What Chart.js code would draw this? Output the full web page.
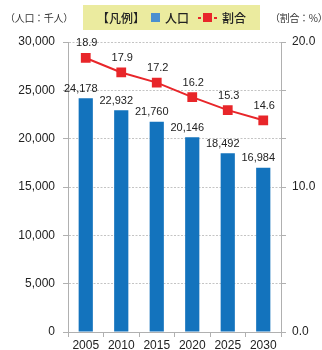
<!DOCTYPE html>
<html><head><meta charset="utf-8">
<script src="https://cdn.jsdelivr.net/npm/chart.js@4/dist/chart.umd.min.js"></script>
<style>
html,body{margin:0;padding:0;background:#fff;}
#wrap{position:relative;width:322px;height:350px;font-family:"Noto Sans CJK JP","Liberation Sans",sans-serif;}
canvas{position:absolute;left:0;top:0;}
.t{position:absolute;font-size:10px;color:#333;white-space:nowrap;letter-spacing:-0.3px;}
#legend{position:absolute;left:83px;top:5px;width:177px;height:25px;background:#ebeb9f;font-size:12px;color:#222;display:flex;align-items:center;justify-content:center;gap:0;font-weight:500;}
.sq{display:inline-block;width:9px;height:9px;background:#4a8fd0;margin:0 5px 0 6px;}
.ln{display:inline-flex;align-items:center;margin:0 5px 0 9px;}
.ln i{display:inline-block;width:3px;height:2px;background:#e8262a;}
.ln b{display:inline-block;width:9px;height:9px;background:#e8262a;margin:0 2px;}
</style></head><body>
<div id="wrap">
<canvas id="c" width="322" height="350"></canvas>
<div class="t" style="left:5px;top:10px;">（人口：千人）</div>
<div class="t" style="left:270px;top:10px;">（割合：%）</div>
<div id="legend"><span>【凡例】</span><span class="sq"></span><span>人口</span><span class="ln"><i></i><b></b><i></i></span><span>割合</span></div>
</div>
<script>
const years = ["2005","2010","2015","2020","2025","2030"];
const population = [24178, 22932, 21760, 20146, 18492, 16984];
const ratio = [18.9, 17.9, 17.2, 16.2, 15.3, 14.6];
const popTicks = [0, 5000, 10000, 15000, 20000, 25000, 30000];
const ratioLabels = [0, 10, 20];

const labelPlugin = {
  id: 'vals',
  afterDatasetsDraw(chart) {
    const ctx = chart.ctx;
    ctx.save();
    ctx.font = '11px "Liberation Sans", Arial, sans-serif';
    ctx.fillStyle = '#222';
    ctx.textAlign = 'center';
    ctx.textBaseline = 'bottom';
    chart.getDatasetMeta(0).data.forEach((el, i) => {
      ctx.fillText(population[i].toLocaleString('en-US'), el.x - 5, el.y - 4);
    });
    chart.getDatasetMeta(1).data.forEach((el, i) => {
      ctx.fillText(ratio[i].toFixed(1), el.x + 1, el.y - 9);
    });
    ctx.restore();
  }
};

new Chart(document.getElementById('c'), {
  data: {
    labels: years,
    datasets: [
      { type: 'bar', data: population, yAxisID: 'y', backgroundColor: '#1373bd',
        barPercentage: 0.4, categoryPercentage: 1, order: 2 },
      { type: 'line', data: ratio, yAxisID: 'y1', borderColor: '#e8262a', borderWidth: 2,
        pointStyle: 'rect', pointRadius: 5.5, pointBackgroundColor: '#e8262a',
        pointBorderColor: '#e8262a', order: 1 }
    ]
  },
  options: {
    responsive: false, animation: false,
    layout: { padding: { top: 42, left: 0, right: 0, bottom: 0 } },
    plugins: { legend: { display: false }, tooltip: { enabled: false } },
    scales: {
      x: {
        grid: { offset: true, drawOnChartArea: false, tickLength: 5, color: '#b0b0b0' },
        border: { color: '#b0b0b0' },
        ticks: { color: '#222', font: { size: 12, family: '"Liberation Sans", Arial, sans-serif' }, padding: 1, maxRotation: 0 },
        afterFit(s) { s.height = 18; }
      },
      y: {
        position: 'left', min: 0, max: 30000,
        afterBuildTicks(s) { s.ticks = popTicks.map(v => ({ value: v })); },
        grid: { color: '#c4c4c4', tickLength: 5, tickColor: '#b0b0b0' },
        border: { color: '#b0b0b0', dash: [2, 1.5] },
        ticks: { color: '#222', font: { size: 12, family: '"Liberation Sans", Arial, sans-serif' }, padding: 8,
          callback: v => v.toLocaleString('en-US') },
        afterFit(s) { s.width = 68; }
      },
      y1: {
        position: 'right', min: 0, max: 20,
        ticks: { count: 7, color: '#222', font: { size: 12, family: '"Liberation Sans", Arial, sans-serif' }, padding: 6,
          callback: v => { const r = Math.round(v); return (Math.abs(v - r) < 1e-6 && ratioLabels.includes(r)) ? r.toFixed(1) : ''; } },
        grid: { drawOnChartArea: false, tickLength: 5, color: '#b0b0b0' },
        border: { color: '#b0b0b0' },
        afterFit(s) { s.width = 41; }
      }
    }
  },
  plugins: [labelPlugin]
});
</script>
</body></html>
